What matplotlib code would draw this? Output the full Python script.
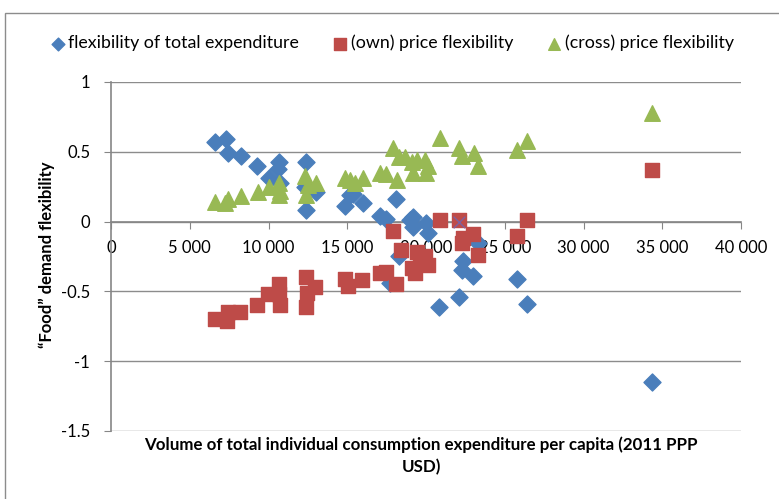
import matplotlib.pyplot as plt
from matplotlib.patches import Rectangle
from matplotlib.ticker import FuncFormatter

# consumption per capita (x) and flexibility (y) for each series
exp_x = [6600, 7280, 7450, 8250, 9250, 10030, 10670, 10580, 10730, 12380, 12320, 12380,
         13020, 14860, 15170, 15390, 15980, 17080, 17460, 18100, 19000, 19200, 19160,
         20000, 20150, 18290, 17710, 22370, 22270, 23010, 23320, 22100, 20850, 25760,
         26400, 34330]
exp_y = [0.57, 0.59, 0.49, 0.47, 0.40, 0.31, 0.43, 0.38, 0.28, 0.43, 0.25, 0.08,
         0.21, 0.11, 0.19, 0.20, 0.13, 0.04, 0.02, 0.16, 0.01, 0.03, -0.04,
         -0.01, -0.08, -0.25, -0.44, -0.28, -0.35, -0.39, -0.15, -0.54, -0.61, -0.41,
         -0.59, -1.15]

own_x = [6600, 7340, 7450, 8190, 9250, 9990, 10670, 10670, 10700, 12360, 12420, 12360,
         12950, 14860, 15070, 15920, 17080, 17440, 18100, 17930, 18390, 19410, 19940,
         20150, 19090, 19300, 19620, 20890, 22100, 22330, 23010, 22270, 23320, 25760,
         26400, 34330]
own_y = [-0.70, -0.71, -0.65, -0.65, -0.60, -0.52, -0.45, -0.52, -0.60, -0.40, -0.51, -0.61,
         -0.47, -0.41, -0.46, -0.42, -0.37, -0.36, -0.45, -0.07, -0.20, -0.22, -0.25,
         -0.31, -0.33, -0.37, -0.30, 0.01, 0.01, -0.12, -0.09, -0.15, -0.24, -0.10,
         0.01, 0.37]

cross_x = [6600, 7240, 7450, 8230, 9310, 10030, 10690, 10730, 10670, 12320, 12380, 12530,
           13020, 14860, 15170, 15490, 15980, 17080, 17460, 18140, 17930, 18310, 18670,
           19200, 19090, 19410, 19940, 20150, 20000, 20890, 22100, 22270, 23070, 23280,
           25760, 26400, 34330]
cross_y = [0.14, 0.13, 0.16, 0.18, 0.21, 0.25, 0.28, 0.22, 0.19, 0.33, 0.19, 0.26,
           0.28, 0.31, 0.30, 0.28, 0.31, 0.35, 0.34, 0.30, 0.53, 0.46, 0.46,
           0.35, 0.43, 0.44, 0.44, 0.40, 0.35, 0.60, 0.53, 0.47, 0.49, 0.40,
           0.51, 0.58, 0.78]

extra_x = [22100]
extra_y = [0.0]

x_ticks = [0, 5000, 10000, 15000, 20000, 25000, 30000, 35000, 40000]
y_ticks = [-1.5, -1, -0.5, 0, 0.5, 1]

plt.rcParams['font.family'] = ['Lato', 'DejaVu Sans']

fig = plt.figure(figsize=(7.79, 4.99), dpi=100)
fig.patches.append(Rectangle((5 / 779, -0.1), 1.2, 1 - 13 / 499 + 0.1, transform=fig.transFigure,
                             fill=False, edgecolor='#8c8c8c', linewidth=1.0))

ax = fig.add_axes([111 / 779, 1 - 431 / 499, 630 / 779, 349 / 499])

blue = '#4a7ebb'
red = '#be4b48'
green = '#98b954'

ax.scatter(exp_x, exp_y, marker='D', s=75, color=blue, zorder=3, label='flexibility of total expenditure')
ax.scatter(own_x, own_y, marker='s', s=115, color=red, zorder=3, label='(own) price flexibility')
ax.scatter(cross_x, cross_y, marker='^', s=125, color=green, zorder=3, label='(cross) price flexibility')
ax.scatter(extra_x, extra_y, marker='x', s=70, color='#7d60a0', linewidths=1, zorder=4)

ax.set_xlim(0, 40000)
ax.set_ylim(-1.5, 1)
ax.set_xticks(x_ticks)
ax.set_yticks(y_ticks)
ax.xaxis.set_major_formatter(FuncFormatter(lambda v, p: f'{int(v):,}'.replace(',', ' ')))
ax.yaxis.set_major_formatter(FuncFormatter(lambda v, p: f'{v:g}'))

ax.spines['top'].set_visible(False)
ax.spines['right'].set_visible(False)
ax.spines['bottom'].set_position(('data', 0))
for s in ['left', 'bottom']:
    ax.spines[s].set_color('#868686')
    ax.spines[s].set_linewidth(1.2)
ax.grid(axis='y', color='#8c8c8c', linewidth=1.0)
ax.set_axisbelow(True)
ax.tick_params(axis='x', direction='out', length=5, color='#868686', labelsize=12, pad=8)
ax.tick_params(axis='y', direction='out', length=5, color='#868686', labelsize=12, pad=10)

fig.text(421 / 779, 1 - 445 / 499, 'Volume of total individual consumption expenditure per capita (2011 PPP',
         ha='center', va='center', fontsize=12.2, fontweight='bold')
fig.text(421 / 779, 1 - 467 / 499, 'USD)', ha='center', va='center', fontsize=12.2, fontweight='bold')
fig.text(47 / 779, 1 - 255 / 499, '\u201cFood\u201d demand flexibility', rotation=90,
         ha='center', va='center', fontsize=12, fontweight='bold')

ax.legend(loc='center', bbox_to_anchor=(392 / 779, 1 - 43 / 499), bbox_transform=fig.transFigure,
          ncol=3, frameon=False, fontsize=12.8, handletextpad=0.2, handlelength=0.8,
          columnspacing=1.9, markerscale=0.75, borderpad=0)

fig.savefig('out.png', dpi=100)
